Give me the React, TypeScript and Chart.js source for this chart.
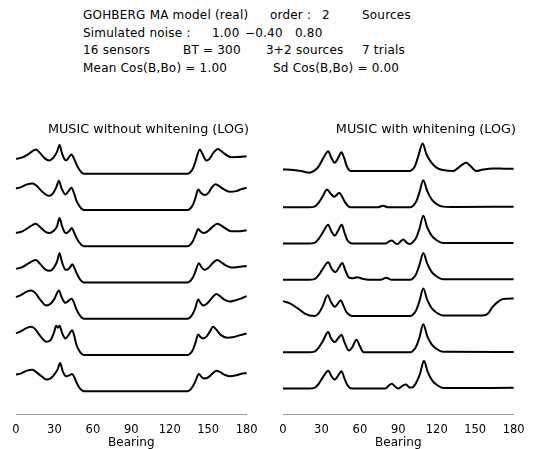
import React, { useEffect, useRef } from "react";
import { Chart, registerables } from "chart.js";

Chart.register(...registerables);

type Pt = [number, number];

// Bearing axis (degrees)
const bearingMin = 0;
const bearingMax = 180;
const bearingStep = 30;

// MUSIC without whitening (LOG) — 7 trials, [bearing, level above floor]
const leftTrial1: Pt[] = [[0,15],[5,16.5],[10,20],[15.5,24.3],[19,20.5],[22.5,15.5],[25.8,13.3],[29,16],[32,22],[34,29],[36,20],[38,14.5],[39.2,13.5],[41.5,17],[43.3,19.3],[45,16],[47,10],[49,5],[51,1.5],[53,0],[134,0],[136,1.5],[138,5],[140,12],[143.5,24.3],[145.5,20],[148.6,13.3],[151,15],[154,21],[157.6,25],[160,23],[163,20],[168,16.7],[173,16.8],[180,17.7]];
const leftTrial2: Pt[] = [[0,21.7],[4,23],[8,25.5],[12.9,26.7],[16,24.5],[20,19],[24,15],[26.3,14.3],[29,17],[31.5,23],[33.5,29.3],[35.5,22],[38.6,15.7],[41,19],[43.3,22.3],[45,18],[47,10],[49,5],[51,1.5],[53,0],[134,0],[136,1.5],[138,5],[140,12],[142.2,20.7],[144.5,17],[147.3,15],[150,17],[153,23],[155.6,26],[158,24.5],[162,21],[166.7,18.3],[172,19],[176,21],[180,22.3]];
const leftTrial3: Pt[] = [[0,13.3],[5,15],[10,19],[15.5,22.7],[19,19],[23,14.5],[26.3,13.3],[29,15],[32,20],[34,28.3],[36,20],[38,14],[39.5,13.3],[42,16],[43.5,18.3],[45,15],[47,9],[49,4.5],[51,1.5],[53,0],[134,0],[136,1.5],[138,5],[140,11],[142.2,17.3],[144,15],[146,13.3],[149,14.5],[153,19],[157,22.7],[160,21],[164,17.5],[168,15],[173,15],[180,16]];
const leftTrial4: Pt[] = [[0,13.7],[5,15.5],[10,19.5],[15.5,22.7],[19,18.5],[23,13],[26.3,11.7],[29,14],[32,21],[34,29.3],[36,20],[38.5,13],[40,12.7],[42.5,16],[44,18.3],[45.5,15],[47.5,9],[49.5,4],[51.5,1],[53,0],[134,0],[136,1.5],[138,5],[140,11],[142.7,19.3],[145,15],[147.3,12.7],[150,14.5],[154,20],[157,22.7],[160,20.5],[164,17],[168,15],[173,15.5],[180,16.7]];
const leftTrial5: Pt[] = [[0,21.7],[4,24],[8,27],[12.1,28.3],[15,26],[19,19],[23.7,13.3],[27,15],[30,20],[33.5,28.3],[35.5,22],[38.5,16],[41,18],[43.3,20],[45,17],[47,10],[49,5],[51,1.5],[53,0],[134,0],[136,1.5],[138,5],[140,11],[142.2,19.3],[144,16],[146,13.3],[149,15],[153,21],[156.4,25],[159,23],[163,19],[166.7,17.3],[171,18.5],[176,20.5],[180,22.7]];
const leftTrial6: Pt[] = [[0,21.7],[4,24],[8,27],[12.1,28.3],[15,26],[19,19],[23.7,13.3],[27,15],[29.5,22],[31.4,29.3],[32.7,27.5],[34,29.3],[36,22],[38.6,16.7],[41,20],[43.8,25],[45.5,19],[47,11],[49,5],[51,1.5],[53,0],[134,0],[136,1.5],[138,5],[140,12],[142.2,20.7],[144,18],[146,16.7],[149,19],[151.5,24],[153.8,28.3],[156,26],[160,20],[165,17.3],[170,18],[175,20],[180,21.7]];
const leftTrial7: Pt[] = [[0,16.7],[4,18],[8,20.5],[12.9,21.7],[16,19],[20,15],[23.7,11.7],[27,13],[30,17],[32.5,22],[34.5,28.3],[36.5,20],[39.2,15],[41.5,16],[43.8,17.3],[45.5,14],[47.5,8],[49.5,3.5],[51.5,1],[53,0],[134,0],[136,1.5],[138,5],[140,10],[142.7,17.3],[145,14],[147.3,12.7],[150,14],[154,18.5],[156.4,20.7],[159,19.5],[163,16.5],[166.7,15],[172,16],[176,17.5],[180,18.3]];

// MUSIC with whitening (LOG) — 7 trials, [bearing, level above floor]
const rightTrial1: Pt[] = [[0,1.7],[8,1],[14,0],[20.6,-1.7],[25,1],[28,5],[31,12],[35.3,20],[37.5,14],[40.4,8.3],[43,13],[45.6,19],[47.5,14],[49.5,6],[51,2],[52.8,0],[99,0],[101,1.5],[103,5],[105.6,15],[109,27.7],[112,16.7],[116,8.3],[120,3.3],[125,1],[132.7,0],[136,2.5],[140,6.5],[143,8.3],[146,5.5],[150.7,0],[156,1.5],[163.6,2.7],[170,2.5],[179,2.3],[180,2.3]];
const rightTrial2: Pt[] = [[0,0],[20,0],[25,1],[28,5],[31,11],[34.3,18],[37,14],[40,10.7],[42,12.5],[43.8,14.7],[46,11],[48.5,5],[51,1],[53,0],[74,0],[78,1.7],[82,0],[99.5,0],[101.5,1.5],[104,6],[106.5,15],[109.5,27.3],[112.5,16.5],[116,8],[120,3.3],[125,0.7],[135,0.3],[180,0.7]];
const rightTrial3: Pt[] = [[0,0],[20,0],[25,1],[28,5],[31,11],[35.3,19],[37.5,13],[40.4,8],[43,13],[45.9,19],[48,11],[50,4],[52,1],[54,0],[80,0],[82.5,2],[85,3],[87.5,0.5],[89.5,-0.5],[92,2.5],[94,4],[96.5,1],[99,-0.5],[101.5,1.5],[104,6],[106.5,15],[109.5,28],[112.5,16.5],[116,8],[120,3.3],[125,0.5],[180,0.5]];
const rightTrial4: Pt[] = [[0,0],[20,0],[25,1],[28,5],[31,11],[35.3,17.7],[38,11],[41,7.7],[43.5,12],[46.4,17],[48.5,10],[51,3],[54,1.5],[57.9,2.7],[62,1],[67,0],[76,0],[80.6,2],[85,0],[99.5,0],[101.5,1.5],[104,6],[106.5,15],[109.5,27],[112.5,16.5],[116,8],[120,3.3],[125,0.5],[180,0.5]];
const rightTrial5: Pt[] = [[0,15],[5,13],[11.6,7.7],[17,2.5],[24.5,0],[28,3],[31,10],[34.8,21],[37.5,14],[40.4,9.3],[42.5,12],[45,16],[47,11],[49.5,4],[52,1],[54,0],[99.5,0],[101.5,1.5],[104,6],[106.5,15],[109.5,27.7],[112.5,16.5],[116,8],[120,3.3],[125,0.5],[155.8,0.5],[160,2.5],[163.6,9.3],[168,14.5],[171.3,17],[175,17.5],[180,17.7]];
const rightTrial6: Pt[] = [[0,0],[20,0],[25,1],[28,5],[31,11],[35.3,20.3],[37.5,14],[40.4,10.3],[43,14],[45.6,17.7],[48,10],[51.5,1.7],[54,5],[57.4,12.7],[60,6],[63,0],[99.5,0],[101.5,1.5],[104,6],[106.5,15],[109.5,28.3],[112.5,16.5],[116,8],[120,3.3],[125,0.5],[180,0.3]];
const rightTrial7: Pt[] = [[0,0],[20,0],[25,1],[28,5],[31,11],[35.3,18],[38,12],[40.4,9],[43,13],[45.6,17.3],[48,10],[50.5,3],[54,0],[80,0],[82.5,3],[85,4.7],[87.5,2],[90,0],[93,2.5],[96,4],[99,1],[101.5,1.5],[104,6],[107,15],[110,28],[113,16.5],[116.5,8],[120.5,3.3],[125,0.5],[180,0.7]];

const leftTrials = [leftTrial1, leftTrial2, leftTrial3, leftTrial4, leftTrial5, leftTrial6, leftTrial7];
const rightTrials = [rightTrial1, rightTrial2, rightTrial3, rightTrial4, rightTrial5, rightTrial6, rightTrial7];

const leftTitle = "MUSIC without whitening (LOG)";
const rightTitle = "MUSIC with whitening (LOG)";
const axisTitle = "Bearing";

// header text: [text, left, centerY]
const headerItems: [string, number, number][] = [
  ["GOHBERG MA model (real)", 83, 15],
  ["order :", 270, 15],
  ["2", 322, 15],
  ["Sources", 362, 15],
  ["Simulated noise :", 83, 32.5],
  ["1.00", 212, 32.5],
  ["\u22120.40", 245, 32.5],
  ["0.80", 295, 32.5],
  ["16 sensors", 83, 50],
  ["BT = 300", 183, 50],
  ["3+2 sources", 266, 50],
  ["7 trials", 362, 50],
  ["Mean Cos(B,Bo) = 1.00", 83, 68],
  ["Sd Cos(B,Bo) = 0.00", 273, 68],
];

const FONT = "'DejaVu Sans', sans-serif";
const CANVAS_TOP = 110;
const CANVAS_H = 342;
const PLOT_TOP = 138.4; // absolute
const PLOT_BOTTOM = 415; // absolute
const SPACING = 36.45;

function Panel(props: {
  trials: Pt[][];
  title: string;
  left: number;
  width: number;
  padLeft: number;
  padRight: number;
  floorBottom: number;
}) {
  const ref = useRef<HTMLCanvasElement | null>(null);
  useEffect(() => {
    if (!ref.current) return;
    const n = props.trials.length;
    const yMin = -(PLOT_BOTTOM - props.floorBottom);
    const yMax = yMin + (PLOT_BOTTOM - PLOT_TOP);
    const chart = new Chart(ref.current, {
      type: "line",
      data: {
        datasets: props.trials.map((tr, k) => ({
          data: tr.map(([b, v]) => ({ x: b, y: (n - 1 - k) * SPACING + v })),
          borderColor: "#000",
          borderWidth: 2,
          pointRadius: 0,
          fill: false,
          cubicInterpolationMode: "monotone" as const,
          clip: false as any,
        })),
      },
      options: {
        animation: false,
        responsive: false,
        maintainAspectRatio: false,
        events: [],
        layout: { padding: { left: props.padLeft, right: props.padRight, top: 0, bottom: 1.8 } },
        plugins: {
          legend: { display: false },
          tooltip: { enabled: false },
          title: {
            display: true,
            text: props.title,
            align: "end",
            color: "#000",
            font: { family: FONT, size: 12.8, weight: "normal" },
            padding: { top: 12, bottom: 2 },
          },
        },
        scales: {
          x: {
            type: "linear",
            min: bearingMin,
            max: bearingMax,
            ticks: {
              stepSize: bearingStep,
              color: "#000",
              font: { family: FONT, size: 11.5 },
              padding: 8.4,
              maxRotation: 0,
              autoSkip: false,
            },
            grid: { display: false, drawTicks: false },
            border: { display: true, color: "#9a9a9a", width: 1, dash: [2, 3] },
            title: {
              display: true,
              text: axisTitle,
              color: "#000",
              font: { family: FONT, size: 12 },
              padding: { top: -9.2, bottom: 0 },
            },
          },
          y: { display: false, min: yMin, max: yMax },
        },
      },
    } as any);
    return () => chart.destroy();
  }, []);
  return (
    <canvas
      ref={ref}
      width={props.width}
      height={CANVAS_H}
      style={{ position: "absolute", left: props.left, top: CANVAS_TOP, width: props.width, height: CANVAS_H }}
    />
  );
}

export default function App() {
  return (
    <div
      style={{
        position: "absolute",
        left: 0,
        top: 0,
        width: 533,
        height: 449,
        overflow: "hidden",
        background: "#fff",
      }}
    >
      {headerItems.map(([t, x, y], i) => (
        <div
          key={i}
          style={{
            position: "absolute",
            left: x,
            top: y - 7,
            lineHeight: "14px",
            fontSize: 12,
            letterSpacing: "0.2px",
            fontFamily: FONT,
            color: "#000",
            whiteSpace: "pre",
          }}
        >
          {t}
        </div>
      ))}
      <Panel trials={leftTrials} title={leftTitle} left={0} width={266} padLeft={16} padRight={17} floorBottom={391.7} />
      <Panel trials={rightTrials} title={rightTitle} left={266} width={267} padLeft={17} padRight={17} floorBottom={389} />
    </div>
  );
}
